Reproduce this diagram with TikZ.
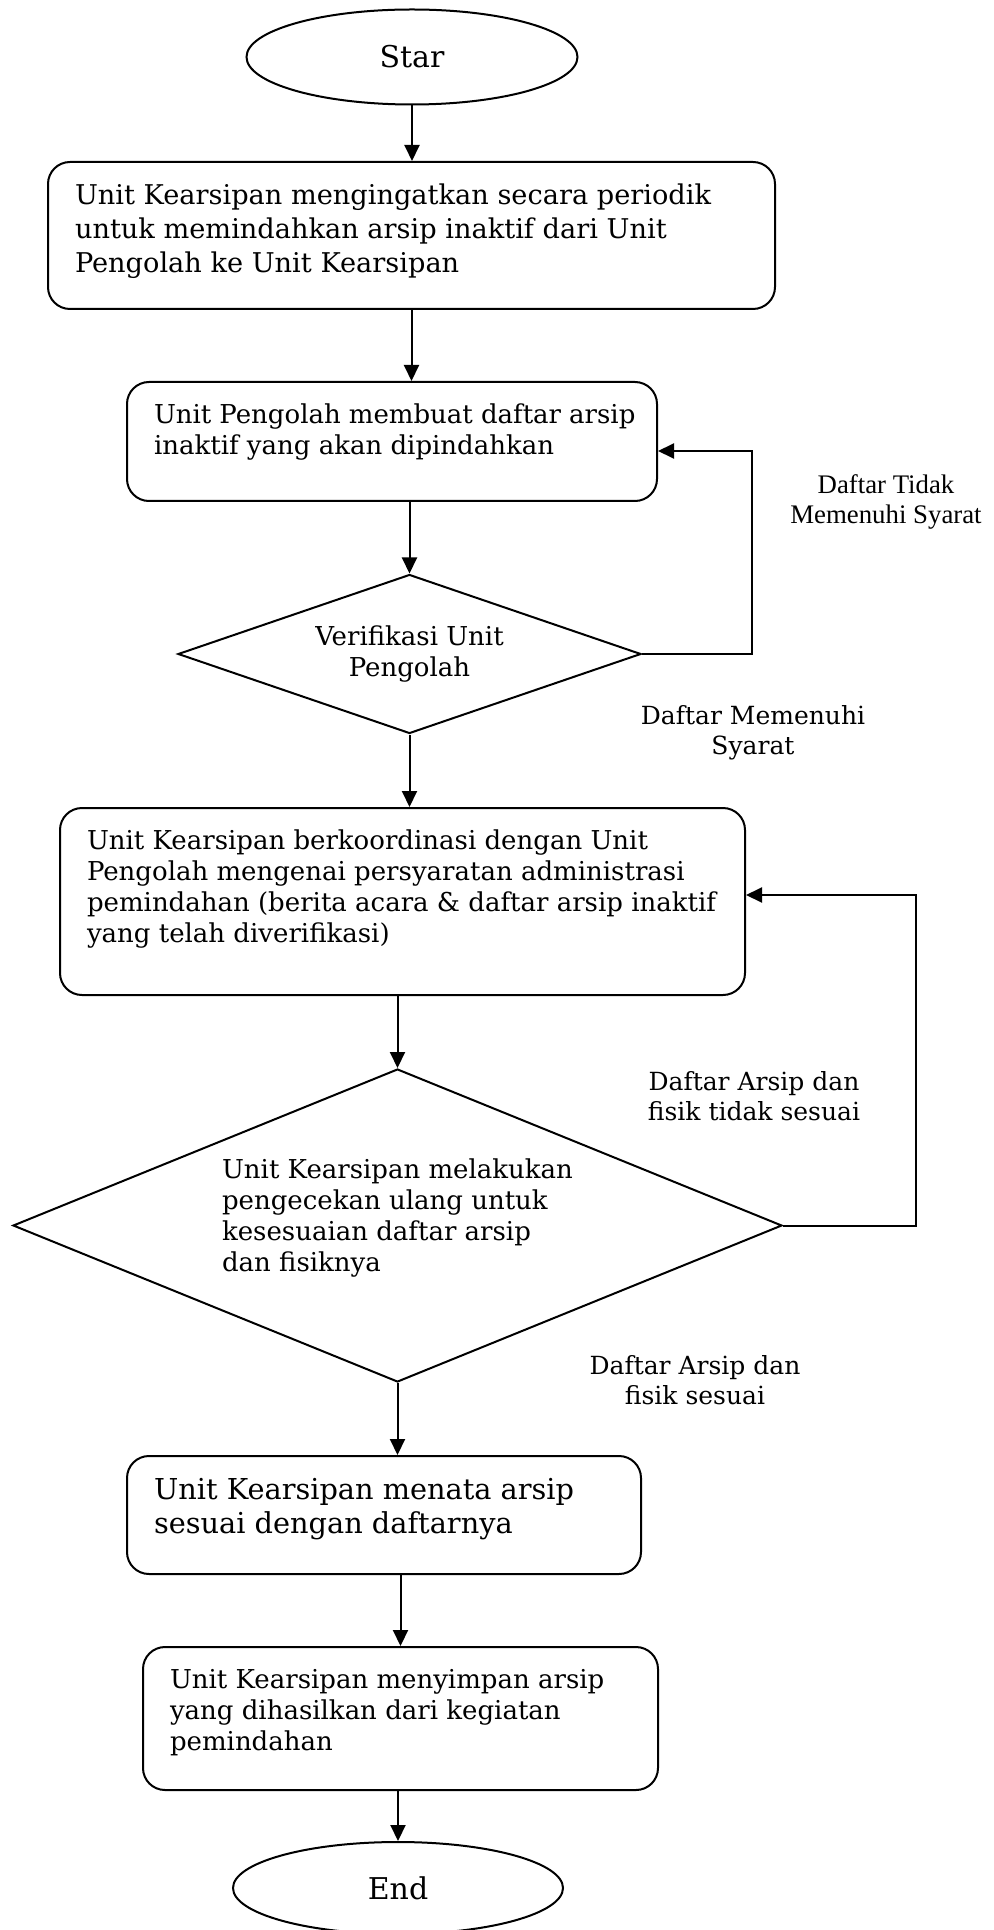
\documentclass[tikz,border=0pt]{standalone}
\usepackage{fontspec}
\setmainfont{DejaVu Serif}
\newfontfamily\timesfont{Liberation Serif}
\usetikzlibrary{shapes.geometric,arrows.meta}

\newcommand{\headfont}{\fontsize{13.6}{17}\selectfont}
\newcommand{\leadfont}{\fontsize{14.4}{17}\selectfont}
\newcommand{\bodyfont}{\fontsize{13}{15.5}\selectfont}
\newcommand{\notefont}{\fontsize{12.5}{15}\selectfont}
\newcommand{\boxbody}[3]{\parbox[c][#2][t]{#1}{\raggedright\rightskip=0pt plus 1fil minus 40pt #3}}

\tikzset{
  stepbox/.style={draw, rectangle, rounded corners=11pt, inner xsep=13.5pt, inner ysep=11pt},
  decision/.style={draw, diamond, inner sep=0pt, font=\bodyfont},
  terminal/.style={draw, ellipse, inner sep=0pt, font=\fontsize{15}{18}\selectfont},
  note/.style={align=center, font=\notefont},
}

\begin{document}
\begin{tikzpicture}[x=0.5pt,y=-0.5pt,line width=1pt,>={Triangle[length=8pt,width=7.5pt]}]
  \useasboundingbox (0,0) rectangle (993,1930);

  % alur utama
  \node[terminal, minimum width=165.5pt, minimum height=47.5pt] (start) at (412,57) {Star};
  \node[stepbox] (ingat) at (411.5,235.5) {\boxbody{336.5pt}{51.5pt}{\headfont Unit Kearsipan mengingatkan secara periodik\\untuk memindahkan arsip inaktif dari Unit\\Pengolah ke Unit Kearsipan}};
  \node[stepbox] (daftar) at (392,441.5) {\boxbody{238pt}{37.5pt}{\bodyfont Unit Pengolah membuat daftar arsip\\inaktif yang akan dipindahkan}};
  \node[decision, minimum width=231.5pt, minimum height=79.5pt, aspect=2.91, align=center] (verif) at (409.5,654) {Verifikasi Unit\\Pengolah};
  \node[stepbox] (koord) at (402.5,901.5) {\boxbody{315.5pt}{71.5pt}{\bodyfont Unit Kearsipan berkoordinasi dengan Unit\\Pengolah mengenai persyaratan administrasi\\pemindahan (berita acara \& daftar arsip inaktif\\yang telah diverifikasi)}};
  \node[decision, minimum width=384.5pt, minimum height=156.5pt, aspect=2.46, align=left, text depth=10pt] (cek) at (397.5,1225.5) {Unit Kearsipan melakukan\\pengecekan ulang untuk\\kesesuaian daftar arsip\\dan fisiknya};
  \node[stepbox] (tata) at (384,1515) {\boxbody{230pt}{37pt}{\leadfont Unit Kearsipan menata arsip\\sesuai dengan daftarnya}};
  \node[stepbox] (simpan) at (400.5,1718.5) {\boxbody{230.5pt}{49.5pt}{\bodyfont Unit Kearsipan menyimpan arsip\\yang dihasilkan dari kegiatan\\pemindahan}};
  \node[terminal, minimum width=165pt, minimum height=46pt] (end) at (398,1888) {End};

  \draw[->] (start.south) -- (start.south |- ingat.north);
  \draw[->] (ingat.south) -- (ingat.south |- daftar.north);
  \draw[->] (daftar.south -| verif.north) -- (verif.north);
  \draw[->] (verif.south) -- (verif.south |- koord.north);
  \draw[->] (koord.south -| cek.north) -- (cek.north);
  \draw[->] (cek.south) -- (cek.south |- tata.north);
  \draw[->] (tata.south -| simpan.north) -- (simpan.north);
  \draw[->] (simpan.south -| end.north) -- (end.north);

  % balik ke langkah sebelumnya
  \coordinate (balik1) at (752,451);
  \coordinate (balik2) at (916,895);
  \draw[->] (verif.east) -| (balik1) -- (daftar.east |- balik1);
  \draw[->] (cek.east) -| (balik2) -- (koord.east |- balik2);

  % keterangan
  \node[note, font=\timesfont\fontsize{13.4}{15}\selectfont] (tidak) at (886,502) {Daftar Tidak\\Memenuhi Syarat};
  \node[note] (penuh) at (753,733) {Daftar Memenuhi\\Syarat};
  \node[note] (beda) at (754,1096) {Daftar Arsip dan\\fisik tidak sesuai};
  \node[note] (sesuai) at (695,1380) {Daftar Arsip dan\\fisik sesuai};
\end{tikzpicture}
\end{document}
